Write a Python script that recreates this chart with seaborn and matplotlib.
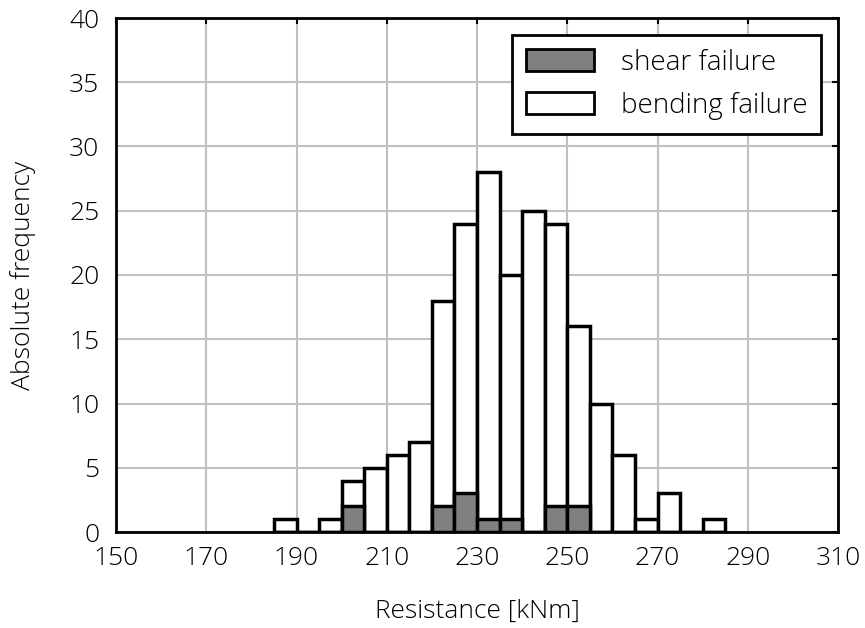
import numpy as np
import pandas as pd
import matplotlib
matplotlib.use("Agg")
import matplotlib.pyplot as plt
import seaborn as sns
from matplotlib.patches import Patch

# Data
bin_centers = [187.5, 192.5, 197.5, 202.5, 207.5, 212.5, 217.5, 222.5, 227.5, 232.5,
               237.5, 242.5, 247.5, 252.5, 257.5, 262.5, 267.5, 272.5, 277.5, 282.5]
total_counts = [1, 0, 1, 4, 5, 6, 7, 18, 24, 28, 20, 25, 24, 16, 10, 6, 1, 3, 0, 1]
shear_counts = [0, 0, 0, 2, 0, 0, 0, 2, 3, 1, 1, 0, 2, 2, 0, 0, 0, 0, 0, 0]
bin_edges = [185, 190, 195, 200, 205, 210, 215, 220, 225, 230, 235, 240, 245, 250,
             255, 260, 265, 270, 275, 280, 285]
x_ticks = [150, 170, 190, 210, 230, 250, 270, 290, 310]
y_ticks = [0, 5, 10, 15, 20, 25, 30, 35, 40]

df = pd.DataFrame({"center": bin_centers, "total": total_counts, "shear": shear_counts})

sns.set_theme(style="white")
plt.rcParams['font.family'] = ['Open Sans', 'DejaVu Sans']
plt.rcParams['font.weight'] = 300
plt.rcParams['text.color'] = 'black'
plt.rcParams['axes.labelcolor'] = 'black'
plt.rcParams['xtick.color'] = 'black'
plt.rcParams['ytick.color'] = 'black'

FS = 19

fig = plt.figure(figsize=(8.65, 6.28), dpi=100)
ax = fig.add_axes([116/865, 96/628, (838-116)/865, (532-18)/628])

ax.grid(True, color='#c0c0c0', linewidth=1.5, zorder=0)
ax.set_axisbelow(True)

sns.histplot(data=df, x="center", weights="total", bins=bin_edges, ax=ax,
             color='white', edgecolor='black', linewidth=2.5, alpha=1,
             zorder=2)
sns.histplot(data=df, x="center", weights="shear", bins=bin_edges, ax=ax,
             color='#808080', edgecolor='black', linewidth=2.5, alpha=1,
             zorder=3)

ax.set_xlim(150, 310)
ax.set_ylim(0, 40)
ax.set_xticks(x_ticks)
ax.set_yticks(y_ticks)
ax.tick_params(direction='in', length=4, width=1.5, top=True, right=True,
               labelsize=FS, colors='black')
ax.tick_params(axis='x', pad=10)
ax.tick_params(axis='y', pad=12)
for lab in ax.get_xticklabels() + ax.get_yticklabels():
    lab.set_fontweight(300)
for s in ax.spines.values():
    s.set_linewidth(2)
    s.set_color('black')
    s.set_zorder(5)

ax.set_xlabel('Resistance [kNm]', fontsize=FS, fontweight=300, labelpad=20, color='black')
ax.set_ylabel('Absolute frequency', fontsize=FS, fontweight=300, labelpad=24, color='black')

handles = [Patch(facecolor='#808080', edgecolor='black', linewidth=2),
           Patch(facecolor='white', edgecolor='black', linewidth=2)]
leg = ax.legend(handles, ['shear failure', 'bending failure'], loc='upper right',
                frameon=True, fancybox=False, edgecolor='black',
                handlelength=2.45, handleheight=0.85, handletextpad=0.95,
                borderpad=0.5, labelspacing=0.55, borderaxespad=0.6,
                prop={'weight': 300, 'size': 20})
leg.get_frame().set_linewidth(2)
leg.get_frame().set_alpha(1)

fig.savefig('out.png', dpi=100)
